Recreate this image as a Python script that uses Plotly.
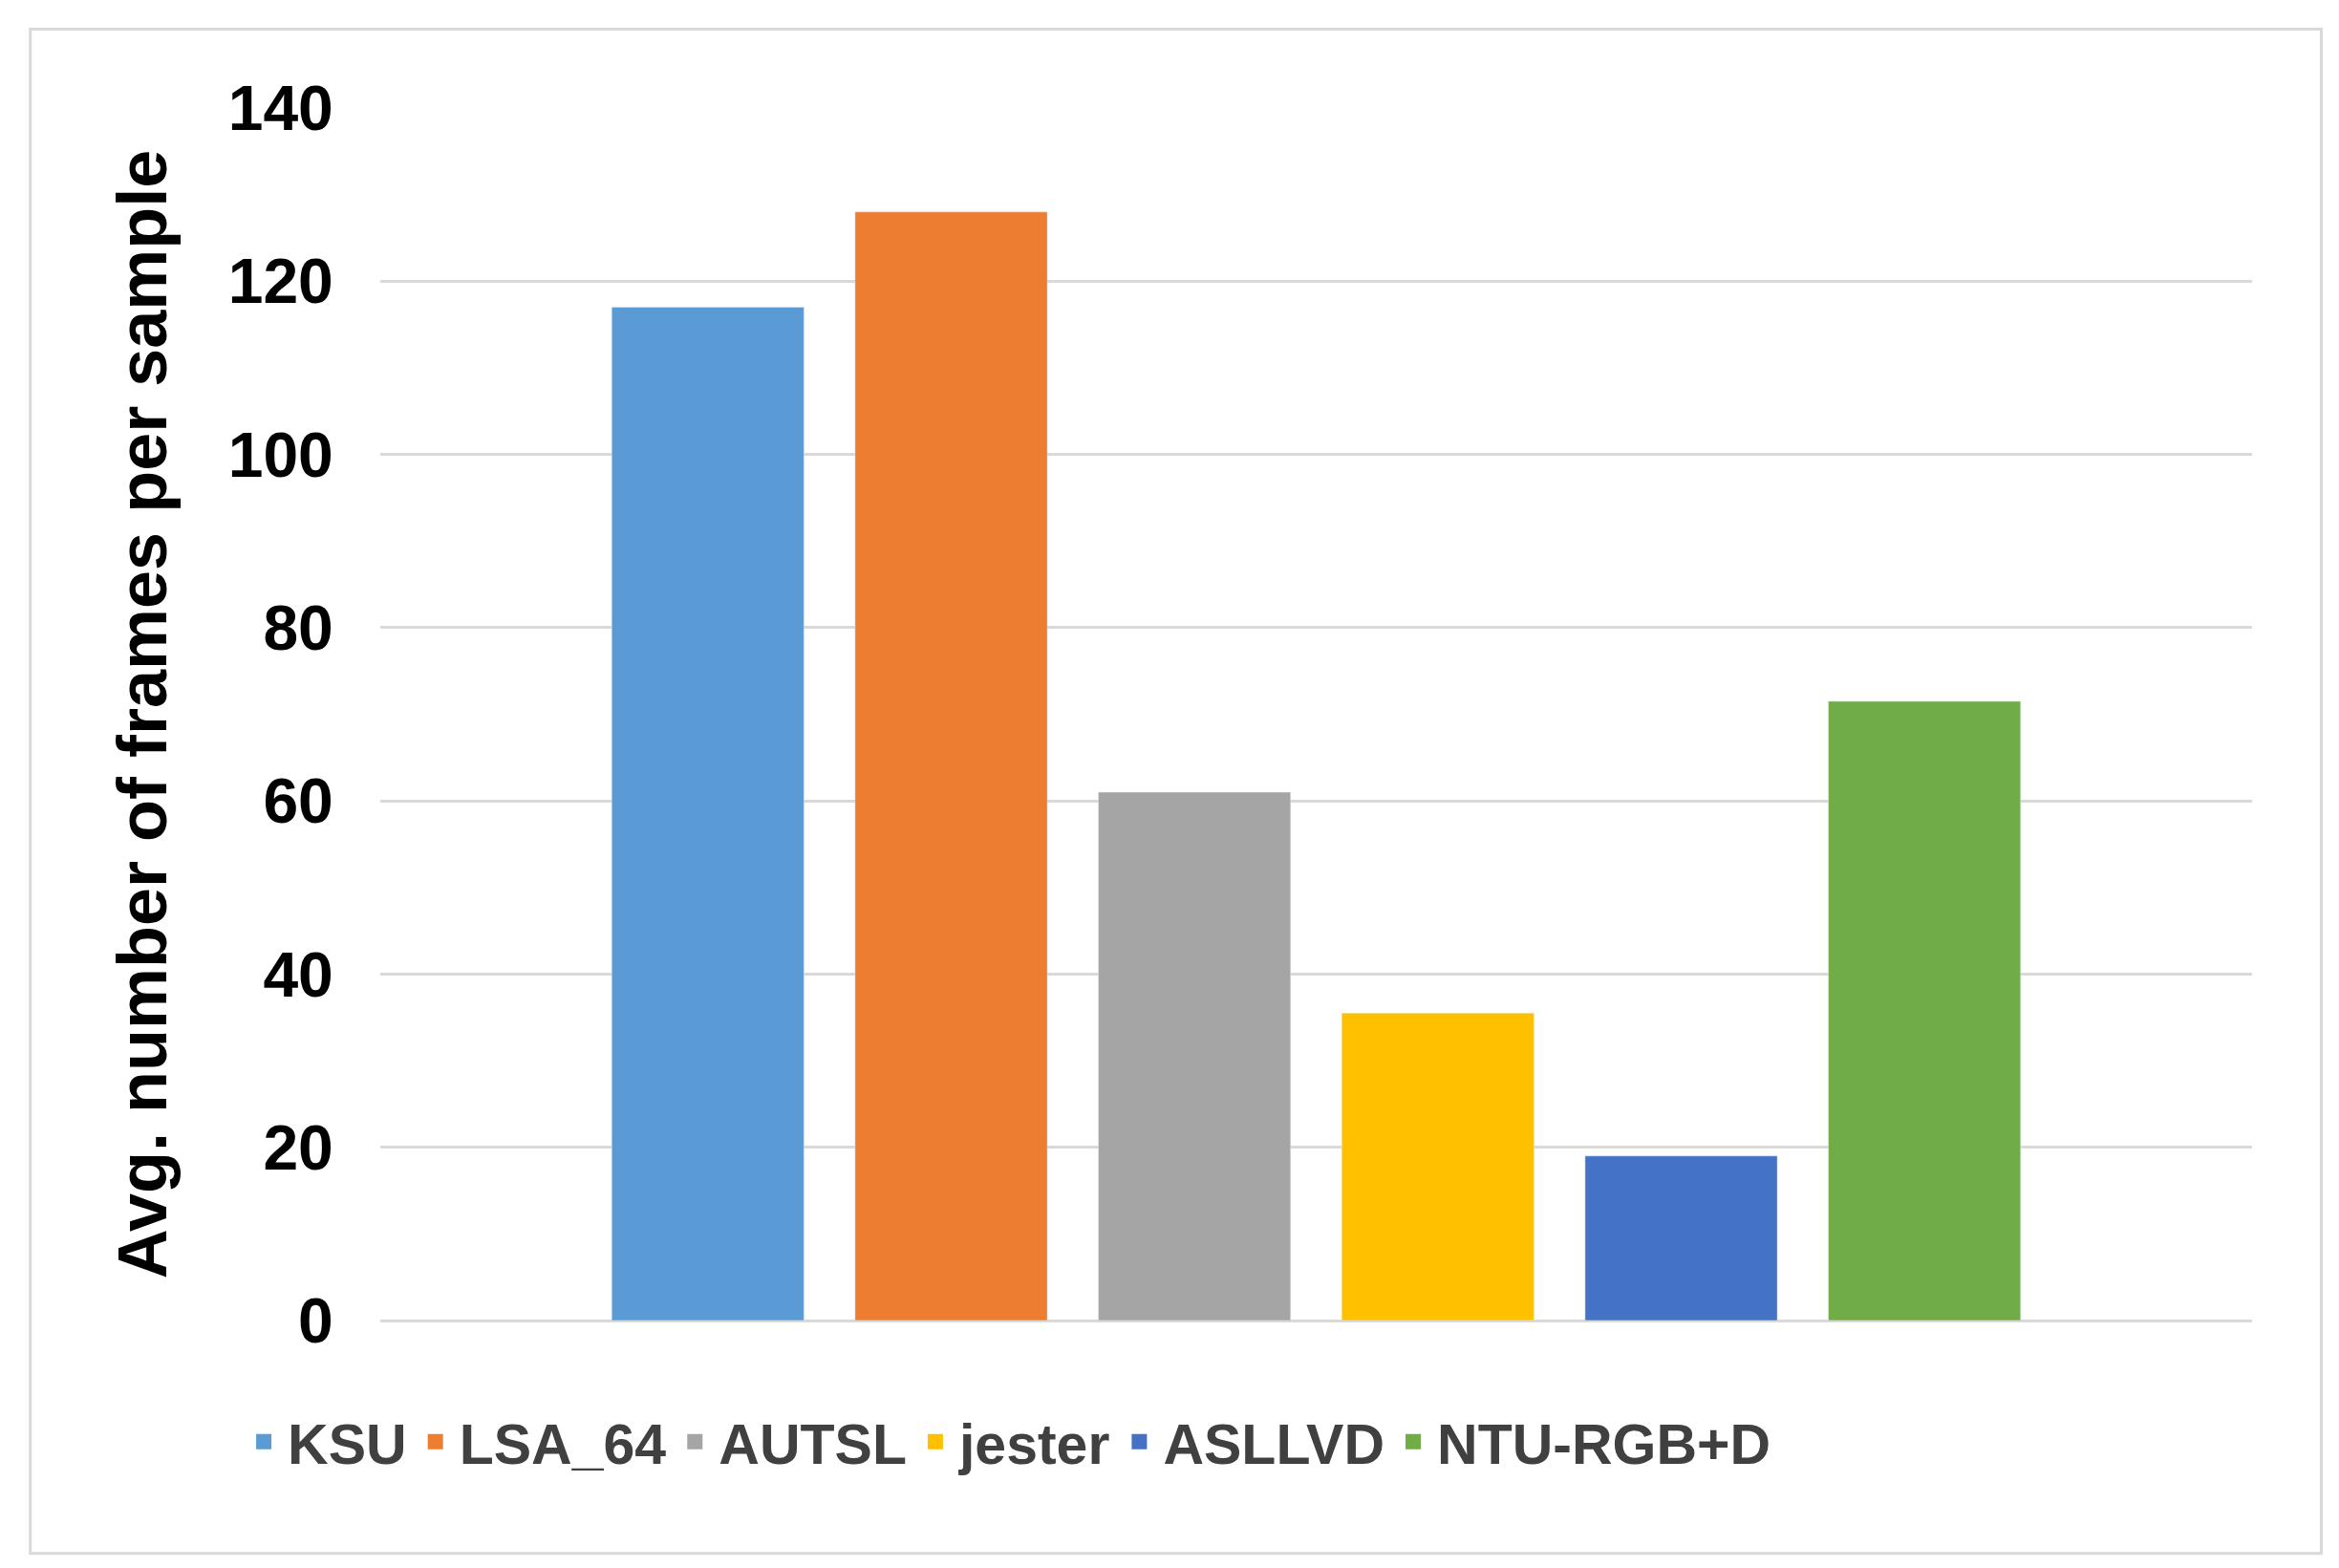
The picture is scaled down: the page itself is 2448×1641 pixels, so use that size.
import plotly.graph_objects as go

datasets = ['KSU', 'LSA_64', 'AUTSL', 'jester', 'ASLLVD', 'NTU-RGB+D']
avg_frames = [117, 128, 61, 35.5, 19, 71.5]
colors = ['#5b9bd5', '#ed7d31', '#a5a5a5', '#ffc000', '#4472c4', '#70ad47']
y_ticks = [0, 20, 40, 60, 80, 100, 120, 140]

fig = go.Figure()
for name, val, col in zip(datasets, avg_frames, colors):
    fig.add_trace(go.Bar(x=[''], y=[val], name=name, marker_color=col,
                         showlegend=False))
# legend-only entries so the swatches come out big like Excel's
for name, col in zip(datasets, colors):
    fig.add_trace(go.Scatter(x=[''], y=[None], name=name, mode='markers',
                             marker=dict(symbol='square', size=38, color=col)))

fig.update_layout(
    width=2448,
    height=1641,
    margin=dict(l=390, r=99, t=105, b=267),
    plot_bgcolor='white',
    paper_bgcolor='white',
    barmode='group',
    bargap=0.22,
    bargroupgap=0.21,
    font=dict(family='Liberation Sans, Arial', size=58, color='black'),
    legend=dict(
        orientation='h',
        x=-0.075, xanchor='left',
        y=-0.1, yanchor='middle',
        font=dict(size=59, weight='bold', color='#404040'),
        itemwidth=40,
        traceorder='normal',
    ),
    shapes=[dict(
        type='rect', xref='paper', yref='paper',
        x0=-0.187, x1=1.037, y0=-0.192, y1=1.065,
        line=dict(color='#d9d9d9', width=3),
    )],
)
fig.update_xaxes(showticklabels=False, showline=False)
fig.update_yaxes(
    range=[0, 140],
    tickvals=y_ticks,
    tickfont=dict(size=66, weight='bold'),
    gridcolor='#d9d9d9',
    gridwidth=3,
    zeroline=True,
    zerolinecolor='#d9d9d9',
    zerolinewidth=3,
    ticks='outside',
    ticklen=0,
    tickcolor='white',
    ticklabelstandoff=35,
    title=dict(text='Avg. number of frames per sample',
               font=dict(size=72, weight='bold'), standoff=40),
)

fig.write_html('out.html')
